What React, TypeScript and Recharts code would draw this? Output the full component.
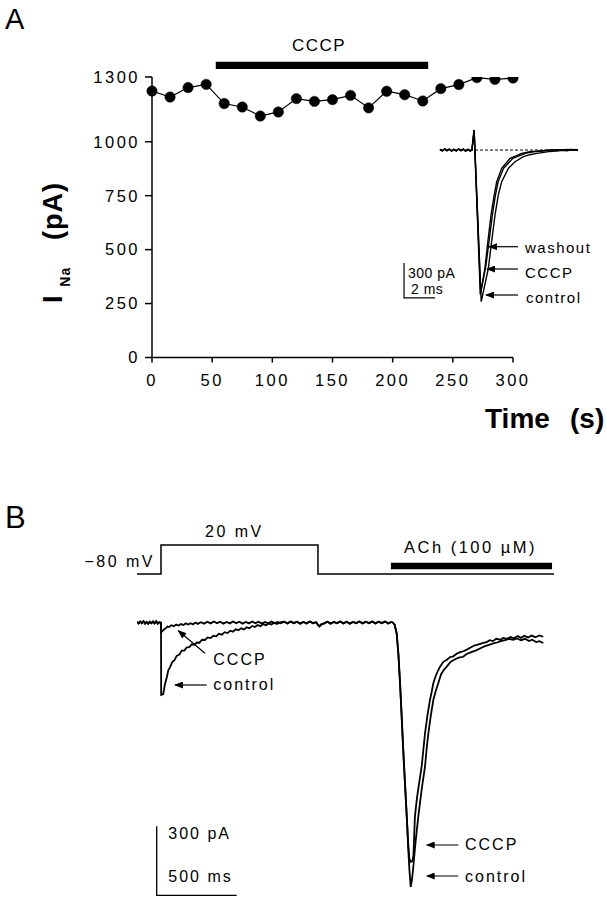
import React from "react";
import { LineChart, Line, XAxis, YAxis, ReferenceArea, ReferenceLine } from "recharts";

const FONT = "'Liberation Sans', Arial, Helvetica, sans-serif";

// ---------- Panel A: I_Na vs time ----------
const timeS = [0, 15, 30, 45, 60, 75, 90, 105, 120, 135, 150, 165, 180, 195, 210, 225, 240, 255, 270, 285, 300];
const inaPA = [1235, 1207, 1251, 1266, 1177, 1161, 1119, 1138, 1200, 1187, 1195, 1215, 1157, 1234, 1218, 1189, 1246, 1265, 1297, 1289, 1295];
const xTicksA = [0, 50, 100, 150, 200, 250, 300];
const yTicksA = [0, 250, 500, 750, 1000, 1300];
const cccpBarA = { from: 53, to: 229.5, low: 1337, high: 1371 };

// ---------- Panel A inset: current traces (ms, pA) ----------
const insetPre = [[0, 5], [0.15, -8], [0.3, 10], [0.45, -6], [0.6, 8], [0.75, -10], [0.9, 6], [1.05, -8], [1.2, 10], [1.35, -5], [1.5, 8], [1.65, -9], [1.8, 6], [1.95, -7], [2.06, 0], [2.2, 171]];
const insetControl = [[2.66, -1300], [3.12, -1014], [3.29, -829], [3.55, -557], [3.76, -386], [3.98, -271], [4.41, -157], [4.84, -100], [5.38, -57], [5.8, -40], [6.24, -29], [6.6, -22], [7.0, -14], [7.53, -9], [7.9, -2], [8.2, -6], [8.5, 3], [8.9, 0]];
const insetCccp = [[2.6, -1240], [2.9, -1014], [3.05, -829], [3.29, -557], [3.48, -400], [3.66, -271], [3.98, -157], [4.52, -71], [5.27, -29], [5.8, -15], [6.24, -9], [6.7, -4], [7.2, 3], [7.74, 0], [8.2, 4], [8.5, -3], [8.9, 0]];
const insetWashout = [[2.62, -1225], [2.95, -1000], [3.12, -829], [3.38, -557], [3.56, -400], [3.75, -271], [4.1, -157], [4.7, -71], [5.5, -29], [6.0, -16], [6.6, -9], [7.1, -3], [7.6, 2], [8.0, 0], [8.4, 5], [8.9, 2]];
const insetScaleBar = [[-2.32, -968], [-2.32, -1268], [-0.32, -1268]];
const insetBaselineEnd = 8.9;

// ---------- Panel B: voltage protocol + currents (ms, pA / mV) ----------
const bVoltage = [[0, -80], [150, -80], [150, 20], [1131, 20], [1131, -80], [2606, -80]];
const achBar = { from: 1587, to: 2594, low: -63.8, high: -41 };
const bPreStep = [[0, 4], [10, -3], [20, 5], [30, -2], [40, 6], [50, -4], [60, 3], [70, -5], [80, 4], [90, -2], [100, 5], [110, -3], [120, 6], [130, -4], [140, 2], [150, 0]];
const bControlStep = [[151, -314], [164, -310], [175, -266], [186, -238], [196, -206], [206, -194], [220, -171], [234, -163], [248, -144], [265, -138], [280, -121], [296, -121], [311, -107], [327, -106], [342, -94], [358, -96], [373, -86], [390, -87], [407, -74], [425, -75], [442, -64], [460, -67], [477, -57], [495, -59], [512, -48], [530, -52], [548, -41], [566, -45], [583, -35], [600, -39], [617, -29], [634, -33], [651, -24], [668, -29], [686, -20], [703, -24], [720, -14], [737, -19], [754, -10], [771, -15], [789, -6], [806, -11], [823, -3], [840, -8], [857, 0], [875, -6], [896, 2]];
const bCccpStep = [[151, -42], [160, -36], [170, -28], [180, -24], [190, -17], [200, -19], [215, -11], [230, -15], [245, -8], [260, -12], [275, -6], [290, -10], [305, -3], [320, -8], [335, -2], [350, -7], [365, 1], [380, -5], [400, 2], [420, -4], [440, 4], [460, -3], [480, 5], [500, -2], [520, 4], [540, -4], [560, 3], [580, -3], [600, 5], [620, -2], [640, 4], [660, -4], [680, 3], [700, -3], [720, 5], [740, -2], [760, 4], [780, -4], [800, 3], [820, -3], [840, 5], [860, -2], [880, 3], [896, -2]];
const bMidBaseline = [[920, 4], [940, -3], [960, 5], [980, -2], [1000, 4], [1020, -4], [1040, 3], [1060, -3], [1080, 5], [1100, -2], [1120, 2], [1131, -10], [1140, -16], [1150, -8], [1170, -3], [1190, 4], [1210, -4], [1230, 3], [1250, -2], [1270, 5], [1290, -3], [1310, 4], [1330, -4], [1350, 3], [1370, -2], [1390, 5], [1410, -3], [1430, 4], [1450, -2], [1470, 5], [1490, -3], [1510, 4], [1530, -2], [1550, 5], [1570, -3], [1590, 3], [1600, 0]];
const bCccpAch = [[1610, -8], [1623, -46], [1634, -140], [1644, -262], [1654, -405], [1664, -553], [1675, -700], [1686, -843], [1695, -960], [1702, -1025], [1712, -1040], [1722, -1035], [1728, -1010], [1737, -843], [1750, -760], [1765, -690], [1779, -626], [1790, -550], [1800, -481], [1815, -405], [1831, -336], [1842, -300], [1852, -263], [1865, -235], [1880, -210], [1894, -191], [1915, -170], [1935, -162], [1955, -150], [1977, -146], [2000, -134], [2020, -128], [2040, -124], [2061, -117], [2085, -108], [2105, -100], [2125, -96], [2145, -92], [2164, -88], [2185, -84], [2205, -76], [2225, -80], [2245, -70], [2270, -74], [2290, -66], [2311, -70], [2335, -62], [2355, -68], [2380, -58], [2400, -66], [2420, -57], [2445, -64], [2465, -56], [2490, -63], [2515, -55], [2539, -61]];
const bControlAch = [[1610, -8], [1623, -46], [1634, -140], [1644, -262], [1654, -405], [1664, -553], [1675, -700], [1686, -843], [1695, -980], [1703, -1080], [1711, -1148], [1718, -1120], [1725, -1075], [1740, -960], [1758, -843], [1780, -720], [1800, -626], [1810, -550], [1821, -481], [1836, -405], [1852, -336], [1868, -295], [1883, -263], [1900, -225], [1918, -205], [1936, -191], [1960, -170], [1985, -160], [2010, -152], [2039, -148], [2060, -136], [2090, -128], [2123, -119], [2150, -110], [2175, -102], [2200, -96], [2227, -90], [2250, -86], [2275, -80], [2300, -76], [2325, -70], [2352, -74], [2375, -68], [2400, -76], [2425, -70], [2450, -80], [2470, -74], [2495, -84], [2515, -80], [2539, -88]];
const bScaleBar = [[123, -885], [123, -1185], [623, -1185]];

const pts = (arr: number[][]) => arr.map(([t, v]) => ({ t, v }));

const panelAData = timeS.map((t, i) => ({ t, ina: inaPA[i] }));
const insetControlTrace = pts([...insetPre, ...insetControl]);
const insetCccpTrace = pts([...insetPre, ...insetCccp]);
const insetWashoutTrace = pts([...insetPre, ...insetWashout]);
const bControlTrace = pts([...bPreStep, ...bControlStep, ...bMidBaseline, ...bControlAch]);
const bCccpTrace = pts([...bPreStep, ...bCccpStep, ...bMidBaseline, ...bCccpAch]);

const txt = (size: number, extra: any = {}) => ({ fontFamily: FONT, fontSize: size, fill: "#000", ...extra });

const Arrow = ({ x1, y1, x2, y2, id }: any) => (
  <line x1={x1} y1={y1} x2={x2} y2={y2} stroke="#000" strokeWidth={1.2} markerEnd={`url(#${id})`} />
);

const Marker = ({ id }: { id: string }) => (
  <defs>
    <marker id={id} markerUnits="userSpaceOnUse" markerWidth={9} markerHeight={7} refX={8} refY={3.5} orient="auto">
      <path d="M0,0 L9,3.5 L0,7 z" fill="#000" />
    </marker>
  </defs>
);

export default function App() {
  const abs: React.CSSProperties = { position: "absolute", left: 0, top: 0 };
  return (
    <div style={{ position: "absolute", left: 0, top: 0, width: 607, height: 899, background: "#fff", overflow: "hidden" }}>
      {/* Panel A main plot */}
      <div style={abs}>
        <LineChart width={607} height={440} data={panelAData} margin={{ top: 77, right: 94, bottom: 52.5, left: 92 }}>
          <XAxis
            dataKey="t"
            type="number"
            domain={[0, 300]}
            ticks={xTicksA}
            tickSize={5}
            tickMargin={12}
            height={30}
            axisLine={{ stroke: "#000", strokeWidth: 1.5 }}
            tickLine={{ stroke: "#000", strokeWidth: 1.5 }}
            tick={{ fill: "#000", fontSize: 16.5, fontFamily: FONT, letterSpacing: 2.5 }}
          />
          <YAxis
            type="number"
            domain={[0, 1300]}
            ticks={yTicksA}
            width={60}
            tickSize={7}
            tickMargin={5}
            allowDataOverflow
            axisLine={{ stroke: "#000", strokeWidth: 1.5 }}
            tickLine={{ stroke: "#000", strokeWidth: 1.5 }}
            tick={{ fill: "#000", fontSize: 16.5, fontFamily: FONT, letterSpacing: 2.5 }}
          />
          <ReferenceArea
            x1={cccpBarA.from}
            x2={cccpBarA.to}
            y1={cccpBarA.low}
            y2={cccpBarA.high}
            ifOverflow="visible"
            fill="#000"
            fillOpacity={1}
            stroke="none"
          />
          <Line
            dataKey="ina"
            stroke="#000"
            strokeWidth={1.2}
            isAnimationActive={false}
            dot={{ r: 5.2, fill: "#000", stroke: "#000", strokeWidth: 0.5 }}
          />
          <text x={5} y={29} {...txt(29)}>A</text>
          <text x={292} y={50.5} {...txt(17, { letterSpacing: 1.5 })}>CCCP</text>
          <text transform="rotate(-90 61.7 303)" fontFamily={FONT} fontWeight="bold" fontSize={27} fill="#000" letterSpacing={1}>
            <tspan x={61.7} y={303}>I</tspan>
            <tspan x={78} y={311} fontSize={14}>Na</tspan>
            <tspan x={124.7} y={303}>(pA)</tspan>
          </text>
          <text x={485} y={428} {...txt(28, { fontWeight: "bold" })}>Time</text>
          <text x={570} y={428} {...txt(28, { fontWeight: "bold" })}>(s)</text>
        </LineChart>
      </div>

      {/* Panel A inset */}
      <div style={abs}>
        <LineChart width={607} height={440} margin={{ top: 126.7, right: 12, bottom: 126.7, left: 378 }}>
          <Marker id="ahA" />
          <XAxis dataKey="t" type="number" domain={[-4, 10]} hide allowDataOverflow />
          <YAxis type="number" domain={[-1400, 200]} hide allowDataOverflow />
          <ReferenceLine
            segment={[{ x: 0, y: 0 }, { x: insetBaselineEnd, y: 0 }]}
            stroke="#000"
            strokeWidth={1}
            strokeDasharray="3 2"
            ifOverflow="visible"
          />
          <Line data={insetControlTrace} dataKey="v" stroke="#000" strokeWidth={1.4} dot={false} isAnimationActive={false} />
          <Line data={insetCccpTrace} dataKey="v" stroke="#000" strokeWidth={1.4} dot={false} isAnimationActive={false} />
          <Line data={insetWashoutTrace} dataKey="v" stroke="#000" strokeWidth={1.4} dot={false} isAnimationActive={false} />
          <Line data={pts(insetScaleBar)} dataKey="v" stroke="#000" strokeWidth={1.2} dot={false} isAnimationActive={false} />
          <Arrow x1={518} y1={246.7} x2={489} y2={246.7} id="ahA" />
          <Arrow x1={518} y1={269} x2={487} y2={269} id="ahA" />
          <Arrow x1={518} y1={295} x2={486} y2={295} id="ahA" />
          <text x={525} y={252.5} {...txt(15, { letterSpacing: 1.5 })}>washout</text>
          <text x={525} y={277.5} {...txt(15, { letterSpacing: 1.5 })}>CCCP</text>
          <text x={526} y={303} {...txt(15, { letterSpacing: 1.5 })}>control</text>
          <text x={408} y={278} {...txt(14, { letterSpacing: 0.5 })}>300 pA</text>
          <text x={411} y={294} {...txt(14, { letterSpacing: 0.5 })}>2 ms</text>
        </LineChart>
      </div>

      {/* Panel B */}
      <div style={abs}>
        <LineChart width={607} height={899} margin={{ top: 520, right: 38, bottom: 0, left: 137 }}>
          <Marker id="ahB" />
          <XAxis dataKey="t" type="number" domain={[0, 2700]} hide allowDataOverflow />
          <YAxis yAxisId="i" type="number" domain={[-1201, 446.5]} hide allowDataOverflow />
          <YAxis yAxisId="v" type="number" domain={[-1200.7, 106.2]} hide allowDataOverflow />
          <ReferenceArea
            yAxisId="v"
            x1={achBar.from}
            x2={achBar.to}
            y1={achBar.low}
            y2={achBar.high}
            ifOverflow="visible"
            fill="#000"
            fillOpacity={1}
            stroke="none"
          />
          <Line yAxisId="v" data={pts(bVoltage)} dataKey="v" stroke="#000" strokeWidth={1.5} dot={false} isAnimationActive={false} />
          <Line yAxisId="i" data={bControlTrace} dataKey="v" stroke="#000" strokeWidth={1.8} dot={false} isAnimationActive={false} />
          <Line yAxisId="i" data={bCccpTrace} dataKey="v" stroke="#000" strokeWidth={1.8} dot={false} isAnimationActive={false} />
          <Line yAxisId="i" data={pts(bScaleBar)} dataKey="v" stroke="#000" strokeWidth={1.3} dot={false} isAnimationActive={false} />
          <text x={5} y={528} {...txt(31)}>B</text>
          <text x={205} y={536.7} {...txt(16, { letterSpacing: 2.5 })}>20 mV</text>
          <text x={155} y={566.7} textAnchor="end" {...txt(16, { letterSpacing: 2.5 })}>−80 mV</text>
          <text x={470.5} y={553} textAnchor="middle" {...txt(16.5, { letterSpacing: 2.5 })}>ACh (100 µM)</text>
          <text x={213.3} y={665} {...txt(16, { letterSpacing: 2 })}>CCCP</text>
          <text x={213.3} y={690} {...txt(16, { letterSpacing: 2 })}>control</text>
          <Arrow x1={205} y1={653.3} x2={178.3} y2={630.7} id="ahB" />
          <Arrow x1={206.7} y1={685} x2={175} y2={685} id="ahB" />
          <text x={465} y={850} {...txt(16, { letterSpacing: 2 })}>CCCP</text>
          <text x={465} y={881.7} {...txt(16, { letterSpacing: 2 })}>control</text>
          <Arrow x1={458.3} y1={845} x2={426.7} y2={845} id="ahB" />
          <Arrow x1={458.3} y1={876} x2={426.7} y2={876} id="ahB" />
          <text x={168.3} y={839} {...txt(16, { letterSpacing: 2 })}>300 pA</text>
          <text x={168.3} y={881.7} {...txt(16, { letterSpacing: 2 })}>500 ms</text>
        </LineChart>
      </div>
    </div>
  );
}
